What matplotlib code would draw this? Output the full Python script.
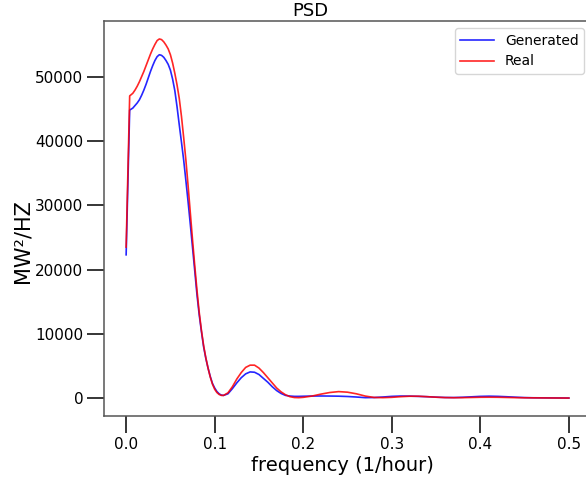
import matplotlib
matplotlib.use("Agg")
import matplotlib.pyplot as plt
import numpy as np

# frequency grid (1/hour) and PSD values
freq = [0.0, 0.004, 0.0075, 0.01, 0.0125, 0.015, 0.0175, 0.02, 0.0225, 0.025,
        0.0275, 0.03, 0.0325, 0.035, 0.0375, 0.04, 0.0425, 0.045, 0.0475, 0.05,
        0.0525, 0.055, 0.0575, 0.06, 0.0625, 0.065, 0.0675, 0.07, 0.0725, 0.075,
        0.0775, 0.08, 0.0825, 0.085, 0.0875, 0.09, 0.0925, 0.095, 0.0975, 0.10,
        0.1025, 0.105, 0.1075, 0.11, 0.115, 0.12, 0.125, 0.13, 0.135, 0.14,
        0.145, 0.15, 0.155, 0.16, 0.165, 0.17, 0.175, 0.18, 0.185, 0.19,
        0.195, 0.20, 0.21, 0.22, 0.23, 0.24, 0.25, 0.26, 0.27, 0.28,
        0.29, 0.30, 0.31, 0.32, 0.33, 0.34, 0.35, 0.36, 0.37, 0.38,
        0.39, 0.40, 0.41, 0.42, 0.43, 0.44, 0.45, 0.46, 0.47, 0.48,
        0.49, 0.50]

psd_generated = [22300, 44800, 45100, 45500, 45900, 46400, 47100, 47900, 48800, 49800,
                 50800, 51700, 52500, 53100, 53400, 53300, 53000, 52500, 51900, 51000,
                 49600, 47800, 45300, 42500, 39800, 37000, 33800, 30500, 27000, 23400,
                 19800, 16100, 13000, 10400, 8000, 6200, 4700, 3400, 2300, 1600,
                 1050, 700, 500, 450, 700, 1500, 2400, 3200, 3800, 4100,
                 4050, 3700, 3100, 2500, 1800, 1200, 750, 450, 350, 300,
                 300, 320, 350, 360, 350, 330, 280, 200, 100, 120,
                 200, 300, 350, 340, 300, 250, 180, 130, 120, 160,
                 230, 300, 330, 300, 240, 170, 110, 80, 70, 60,
                 50, 40]

psd_real = [23500, 47000, 47400, 47900, 48500, 49200, 50000, 50800, 51700, 52600,
            53500, 54300, 55000, 55600, 55850, 55750, 55400, 54900, 54300, 53400,
            52100, 50500, 48700, 46600, 43800, 40500, 37000, 33000, 28800, 24600,
            20600, 16800, 13400, 10600, 8200, 6300, 4700, 3300, 2200, 1400,
            900, 600, 450, 450, 850, 1800, 3000, 4000, 4800, 5150,
            5150, 4700, 4000, 3200, 2400, 1600, 1000, 550, 250, 120,
            100, 150, 350, 650, 900, 1040, 950, 700, 350, 130,
            100, 150, 250, 320, 320, 250, 170, 110, 90, 100,
            130, 160, 170, 160, 130, 100, 80, 70, 60, 50,
            45, 40]

W, H = 586, 479
fig = plt.figure(figsize=(W / 100, H / 100), dpi=100)
# axes runs a bit past the right edge, as in the reference
ax = fig.add_axes([104 / W, 1 - 416 / H, (591 - 104) / W, (416 - 21) / H])

ax.plot(freq, psd_generated, color="blue", lw=1.2, alpha=0.85, label="Generated")
ax.plot(freq, psd_real, color="red", lw=1.2, alpha=0.85, label="Real")

ax.set_xlim(-0.025, 0.525)
ax.set_xticks([0.0, 0.1, 0.2, 0.3, 0.4, 0.5])
ax.set_yticks([0, 10000, 20000, 30000, 40000, 50000])
ax.tick_params(direction="out", length=12, width=1.1, labelsize=11, pad=3)
for s in ax.spines.values():
    s.set_color("#555555")
    s.set_linewidth(1.1)

ax.legend(loc="upper right", fontsize=10, handlelength=2.4)

fig.text(310 / W, 1 - 16.5 / H, "PSD", ha="center", va="baseline", fontsize=13)
fig.text(342 / W, 1 - 471 / H, "frequency (1/hour)", ha="center", va="baseline", fontsize=14)
fig.text(22 / W, 1 - 241 / H, "MW²/HZ", ha="center", va="center", rotation=90, fontsize=15)

fig.savefig("out.png", dpi=100)
